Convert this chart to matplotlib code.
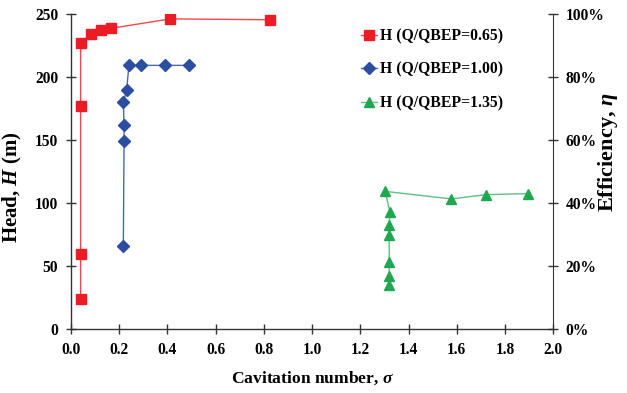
import matplotlib
matplotlib.use("Agg")
import matplotlib.pyplot as plt
from matplotlib.ticker import FuncFormatter

plt.rcParams['font.family'] = ['Liberation Serif', 'DejaVu Serif']
plt.rcParams['font.weight'] = 'bold'
plt.rcParams['mathtext.fontset'] = 'custom'
plt.rcParams['mathtext.rm'] = 'Liberation Serif:bold'
plt.rcParams['mathtext.it'] = 'Liberation Serif:bold:italic'
plt.rcParams['mathtext.bf'] = 'Liberation Serif:bold'

# Data
sigma_065 = [0.041, 0.041, 0.041, 0.041, 0.084, 0.126, 0.167, 0.413, 0.827]
head_065 = [23.8, 59.6, 177.4, 227.5, 234.4, 237.8, 238.9, 246.4, 245.7]

sigma_100 = [0.218, 0.221, 0.221, 0.218, 0.232, 0.241, 0.290, 0.389, 0.490]
head_100 = [66.5, 149.1, 162.3, 180.1, 190.2, 209.5, 209.5, 209.5, 209.5]

sigma_135 = [1.320, 1.320, 1.320, 1.320, 1.320, 1.323, 1.303, 1.577, 1.721, 1.894]
head_135 = [35.1, 42.2, 53.3, 75.2, 83.1, 92.9, 109.5, 103.5, 106.9, 107.7]

labels = ['H (Q/QBEP=0.65)', 'H (Q/QBEP=1.00)', 'H (Q/QBEP=1.35)']
x_ticks = [0.0, 0.2, 0.4, 0.6, 0.8, 1.0, 1.2, 1.4, 1.6, 1.8, 2.0]
y_ticks = [0, 50, 100, 150, 200, 250]
eff_ticks = [0, 0.2, 0.4, 0.6, 0.8, 1.0]

fig = plt.figure(figsize=(6.27, 3.93), dpi=100)
ax = fig.add_axes([0.1128, 0.162, 0.7697, 0.8015])

ax.plot(sigma_065, head_065, color='#F0484C', lw=1.0, marker='s', ms=7.3,
        mfc='#ED1C24', mec='#ED1C24', label=labels[0])
ax.plot(sigma_100, head_100, color='#4A66B0', lw=1.0, marker='D', ms=5.8,
        mfc='#2C4EA2', mec='#2C4EA2', label=labels[1])
ax.plot(sigma_135, head_135, color='#5EC083', lw=1.0, marker='^', ms=7.5,
        mfc='#1FA84F', mec='#1FA84F', label=labels[2])

ax.set_xlim(0, 2.0)
ax.set_ylim(0, 250)
ax.set_xticks(x_ticks)
ax.set_yticks(y_ticks)
ax.xaxis.set_major_formatter(FuncFormatter(lambda v, p: f"{v:.1f}"))
ax.spines['top'].set_visible(False)
ax.spines['right'].set_visible(False)
for s in ['left', 'bottom']:
    ax.spines[s].set_color('#333333')
    ax.spines[s].set_linewidth(1.0)
ax.tick_params(direction='inout', length=7, width=1.0, colors='#333333',
               labelcolor='black', labelsize=11.2, pad=5.5)
for t in ax.get_xticklabels() + ax.get_yticklabels():
    t.set_fontweight('bold')

ax.set_xlabel(r'Cavitation number, $\it{\sigma}$', fontsize=12.6, fontweight='bold')
ax.xaxis.set_label_coords(0.5, -0.128)
ax.set_ylabel(r'Head, $\it{H}$ (m)', fontsize=15, fontweight='bold')
ax.yaxis.set_label_coords(-0.097, 0.452)

ax2 = ax.twinx()
ax2.set_ylim(0, 1.0)
ax2.set_yticks(eff_ticks)
ax2.yaxis.set_major_formatter(FuncFormatter(lambda v, p: f"{v*100:.0f}%"))
for s in ['top', 'left', 'bottom']:
    ax2.spines[s].set_visible(False)
ax2.spines['right'].set_color('#333333')
ax2.tick_params(direction='inout', length=7, width=1.0, colors='#333333',
                labelcolor='black', labelsize=11.2, pad=5.5)
for t in ax2.get_yticklabels():
    t.set_fontweight('bold')
ax2.set_ylabel(r'Efficiency, $\it{\eta}$', fontsize=16, fontweight='bold',
               va='center')
ax2.yaxis.set_label_coords(1.113, 0.563)

leg = ax.legend(loc='upper left', bbox_to_anchor=(0.588, 0.975), frameon=False,
                fontsize=11.35, handlelength=1.05, handletextpad=0.17,
                labelspacing=1.1, borderaxespad=0)
for t in leg.get_texts():
    t.set_fontweight('bold')

fig.savefig('out.png', dpi=100)
